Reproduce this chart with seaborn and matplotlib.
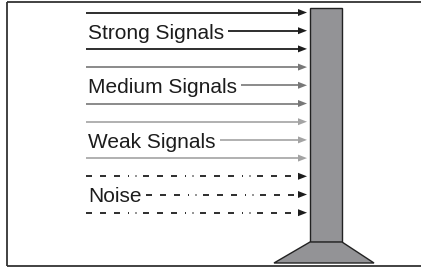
import numpy as np
import matplotlib.pyplot as plt
import seaborn as sns

# signal categories, top to bottom, three arrows each
categories = ["Strong Signals", "Medium Signals", "Weak Signals", "Noise"]
arrows_per_group = [3, 3, 3, 3]
label_row = [1, 1, 1, 1]          # which arrow in each group carries the label
group_colors = ["#1c1c1c", "#777777", "#a3a3a3", "#1c1c1c"]
group_dashed = [False, False, False, True]

sns.set_style("white")
plt.rcParams["font.family"] = ["Liberation Sans", "DejaVu Sans"]
plt.rcParams["lines.scale_dashes"] = False

W, H = 421, 269
fig = plt.figure(figsize=(W / 100, H / 100), dpi=100)
ax = fig.add_axes([0, 0, 1, 1])
ax.set_xlim(0, W)
ax.set_ylim(H, 0)
ax.axis("off")

# frame (left, top, bottom; right side runs off the picture)
frame_kw = dict(color="#333333", lw=1.3, solid_capstyle="butt")
ax.plot([7, 7], [2, 266], **frame_kw)
ax.plot([7, W], [2, 2], **frame_kw)
ax.plot([7, W], [266, 266], **frame_kw)

# tower
tower = "#939396"
ax.fill([310, 342, 342, 310], [8, 8, 242, 242], color=tower, ec="#222222", lw=1.0)
ax.fill([310, 342, 374, 274], [242, 242, 263, 263], color=tower, ec="#222222", lw=1.0)

# noise dash pattern: three dashes then two dots (in points)
px = 0.72
noise_dash = (0, (6 * px, 8 * px, 6 * px, 8 * px, 6 * px, 8 * px,
                  1 * px, 6.5 * px, 1 * px, 6.5 * px))

x0, x_tip = 86, 307
head_len, head_half = 9, 3.5
y0, dy = 12.5, 18.2

fig.canvas.draw()
renderer = fig.canvas.get_renderer()
inv = ax.transData.inverted()

row = 0
for cat, n, lr, col, dashed in zip(categories, arrows_per_group, label_row,
                                   group_colors, group_dashed):
    for i in range(n):
        y = y0 + dy * row
        start = x0
        if i == lr:
            t = ax.text(88, y + 0.5, cat, fontsize=15, color="#1c1c1c",
                        va="center_baseline", ha="left")
            bb = t.get_window_extent(renderer)
            start = inv.transform((bb.x1, bb.y0))[0] + 4
        ls = noise_dash if dashed else "-"
        lw = 1.3 if col == "#1c1c1c" else 1.2
        ax.plot([start, x_tip - head_len + 1], [y, y], color=col, lw=lw,
                linestyle=ls, solid_capstyle="butt", dash_capstyle="butt")
        ax.fill([x_tip - head_len, x_tip, x_tip - head_len],
                [y - head_half, y, y + head_half], color=col, lw=0)
        row += 1

fig.savefig("out.png", dpi=100)
